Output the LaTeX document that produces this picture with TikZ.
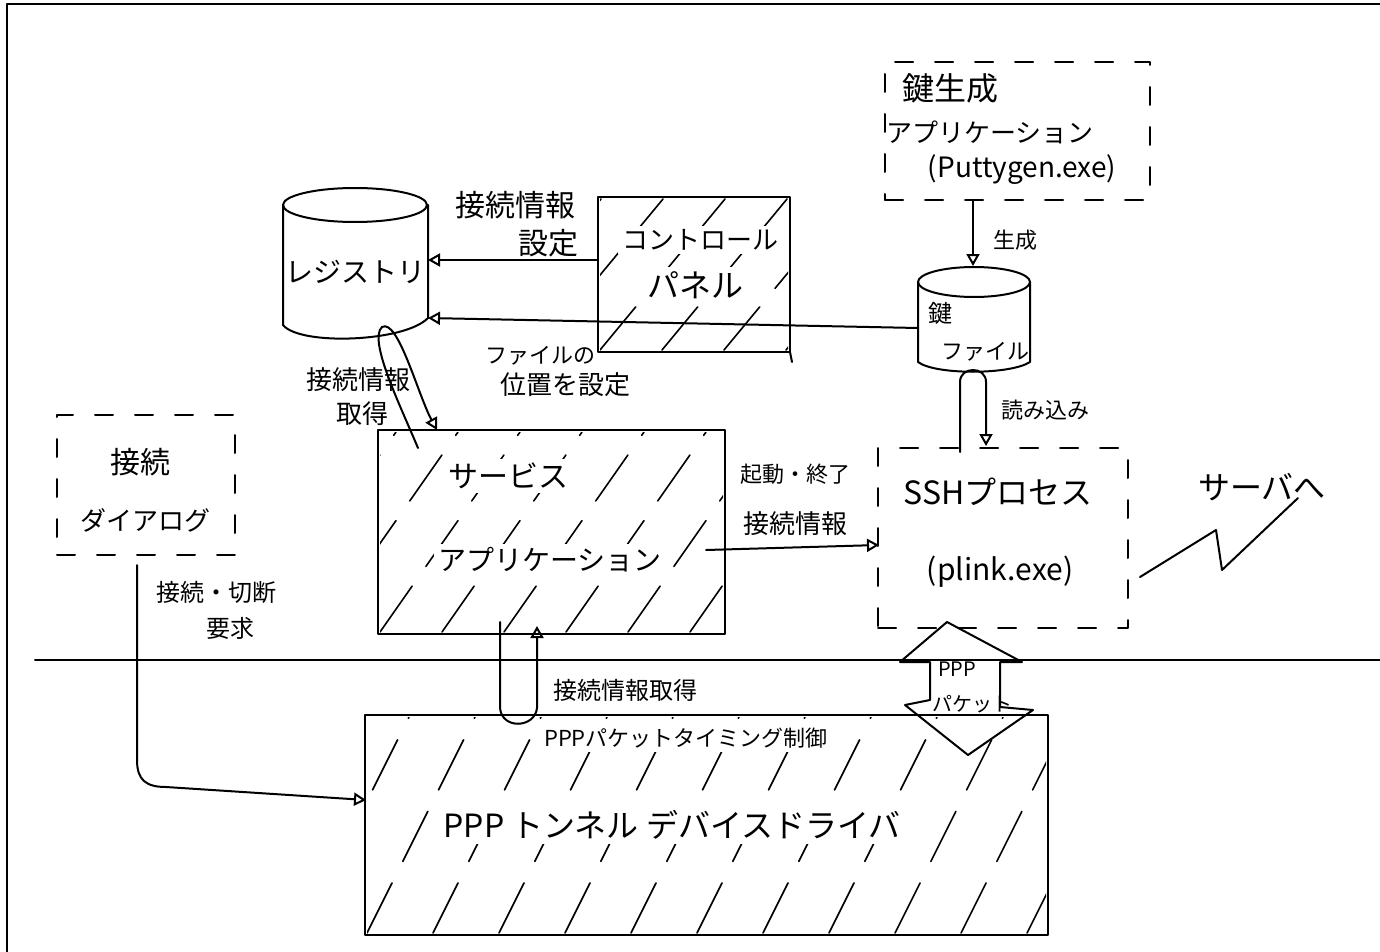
\documentclass[tikz,border=0pt]{standalone}
\usepackage{fontspec}
\setmainfont{Noto Sans CJK JP}
\usetikzlibrary{arrows.meta}
\newcommand\myhatch[6]{%
  \begin{scope}
    \clip (#1,#2) rectangle (#3,#4);
    \foreach \k in {-6,...,24} \draw[hatchline] ({#1+\k*#6},#4) -- ++(#5,{-(#4-#2)});
  \end{scope}}
\begin{document}
\begin{tikzpicture}[x=0.5pt,y=-0.5pt, line width=1pt, line cap=round, line join=round,
  oa/.style={-{Triangle[open,length=6pt,width=6.5pt]}},
  lbl/.style={inner sep=0pt, align=center},
  onhatch/.style={fill=white, inner sep=2pt},
  box/.style={draw, inner sep=0pt},
  dbox/.style={draw, inner sep=0pt, dash pattern=on 9pt off 11pt},
  hatchline/.style={line width=0.8pt, dash pattern=on 28pt off 12pt},
  f10/.style={font=\fontsize{10}{12}\selectfont},
  f11/.style={font=\fontsize{11}{13}\selectfont},
  f12/.style={font=\fontsize{12}{14}\selectfont},
  f13/.style={font=\fontsize{13}{16}\selectfont},
  f14/.style={font=\fontsize{14}{17}\selectfont},
  f15/.style={font=\fontsize{15}{18}\selectfont},
  f16/.style={font=\fontsize{16}{19}\selectfont}]
\useasboundingbox (0,0) rectangle (1380,952);

% outer frame and boundary line
\draw (7,952) -- (7,4) -- (1380,4);
\draw (35,660) -- (1380,660);

% ---------- boxes ----------
\node[dbox, minimum width=132.5pt, minimum height=69pt] (kg) at (1017.5,131) {};
\node[box, minimum width=96pt, minimum height=77.5pt] (cp) at (694,274.5) {};
\draw (790,352) -- (792,362);
\node[dbox, minimum width=125pt, minimum height=90pt] (ssh) at (1003,538) {};
\node[box, minimum width=173.5pt, minimum height=102pt] (svc) at (551.5,532) {};
\node[dbox, minimum width=89pt, minimum height=70pt] (dlg) at (146,485) {};
\node[box, minimum width=341.5pt, minimum height=110pt] (drv) at (706.5,825) {};

% hatching
\myhatch{600}{199}{788}{350}{125}{62}
\myhatch{380}{432}{723}{632}{140}{62}
\myhatch{367}{717}{1046}{933}{108}{66}

% ---------- cylinders ----------
\draw (283,205) -- (283,325) .. controls (300,346) and (405,342) .. (428,318) -- (428,205);
\draw (355,205) ellipse [x radius=72, y radius=17];
\node[lbl, minimum width=72pt, minimum height=68pt] (reg) at (355,272) {};
\draw (918,282) -- (918,362) .. controls (935,375) and (1010,375) .. (1030,362) -- (1030,282);
\draw (974,282) ellipse [x radius=56, y radius=15];
\node[lbl, minimum width=56pt, minimum height=40pt] (kf) at (974,323) {};

% ---------- texts ----------
\node[lbl, f16] (t1) at (950,88) {鍵生成};
\node[lbl, f13] (t2) at (990,132) {アプリケーション};
\node[lbl, f14] (t3) at (1022,170) {(Puttygen.exe)};
\node[lbl, f15] (t4) at (515,205) {接続情報};
\node[lbl, f15] (t5) at (548,243) {設定};
\node[lbl, onhatch, f13] (t6) at (700,240) {コントロール};
\node[lbl, onhatch, f16] (t7) at (695,285) {パネル};
\node[lbl, f14] (t8) at (355,272) {レジストリ};
\node[lbl, f11] (t9) at (540,356) {ファイルの};
\node[lbl, f13] (t10) at (565,385) {位置を設定};
\node[lbl, f11] (t11) at (1015,240) {生成};
\node[lbl, f12] (t12) at (940,313) {鍵};
\node[lbl, f11] (t13) at (985,352) {ファイル};
\node[lbl, f11] (t14) at (1045,410) {読み込み};
\node[lbl, f13] (t15) at (358,380) {接続情報};
\node[lbl, f13] (t16) at (362,414) {取得};
\node[lbl, f15] (t17) at (140,462) {接続};
\node[lbl, f13] (t18) at (145,520) {ダイアログ};
\node[lbl, f12] (t19) at (216,592) {接続・切断};
\node[lbl, f12] (t20) at (230,628) {要求};
\node[lbl, onhatch, f15] (t21) at (508,476) {サービス};
\node[lbl, onhatch, f14] (t22) at (550,560) {アプリケーション};
\node[lbl, f11] (t23) at (795,474) {起動・終了};
\node[lbl, f13] (t24) at (795,524) {接続情報};
\node[lbl, f16] (t25) at (998,492) {SSHプロセス};
\node[lbl, f15] (t26) at (1000,572) {(plink.exe)};
\node[lbl, f16] (t27) at (1262,487) {サーバへ};
\node[lbl, f12] (t28) at (625,690) {接続情報取得};
\node[lbl, onhatch, f11] (t29) at (686,738) {PPPパケットタイミング制御};
\node[lbl, f10] (t30) at (957,669) {PPP};
\node[lbl, f10] (t31) at (972,704) {パケット};
\node[lbl, onhatch, f16] (t32) at (672,825) {PPP トンネル デバイスドライバ};

% ---------- connector end points ----------
\coordinate (cpA) at (598,260);
\coordinate (regA) at (428,260);
\coordinate (kfL) at (918,328);
\coordinate (regB) at (428,318);
\coordinate (kgS) at (973,200);
\coordinate (kfT) at (973,266);
\coordinate (kfB) at (972,371);
\coordinate (sshN) at (986,446);
\coordinate (rgLow) at (382,327);
\coordinate (svcNW) at (437,430);
\coordinate (svcA) at (706,550);
\coordinate (sshW) at (879,545);
\coordinate (dlgS) at (137,565);
\coordinate (drvW) at (366,800);
\coordinate (svcS) at (537,626);
\coordinate (drvTop) at (510,722);

% ---------- connectors ----------
\draw[oa] (cpA) -- (regA);
\draw[oa] (kfL) -- (regB);
\draw[oa] (kgS) -- (kfT);
\draw[oa] (960,452) -- (960,382) .. controls (960,366) and (986,366) .. (986,382) -- (sshN);
\draw[oa] (418,448) .. controls (400,405) and (368,340) .. (rgLow) .. controls (398,318) and (418,395) .. (svcNW);
\draw[oa] (svcA) -- (sshW);
\draw[oa] (dlgS) -- (137,760) .. controls (137,780) and (146,787) .. (166,787) -- (drvW);
\draw[oa] (500,622) -- (500,708) .. controls (502,730) and (535,728) .. (537,708) -- (svcS);

% PPP double block arrow
\draw (947,622) -- (1022,662) -- (1000,662) -- (1000,707) -- (1033,710) -- (968,755)
      -- (905,705) -- (930,700) -- (930,662) -- (900,662) -- cycle;

% lightning to server
\draw (1140,577) -- (1216,530) -- (1222,570) -- (1298,498);
\end{tikzpicture}
\end{document}
